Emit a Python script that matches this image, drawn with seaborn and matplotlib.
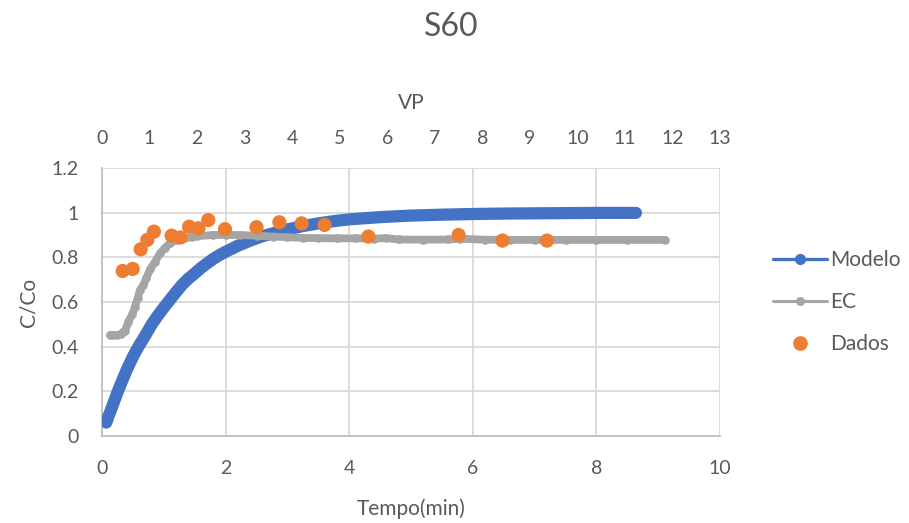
import matplotlib
matplotlib.use("Agg")
import matplotlib.pyplot as plt
from matplotlib.lines import Line2D
import seaborn as sns

# Modelo: fitted breakthrough curve (time in min, C/Co)
modelo_t = [0.07, 0.10, 0.15, 0.20, 0.25, 0.30, 0.40, 0.50, 0.60, 0.70, 0.80,
            0.90, 1.00, 1.10, 1.20, 1.30, 1.40, 1.50, 1.60, 1.70, 1.80, 1.90,
            2.00, 2.20, 2.40, 2.60, 2.80, 3.00, 3.25, 3.50, 3.75, 4.00, 4.50,
            5.00, 5.50, 6.00, 6.50, 7.00, 7.50, 8.00, 8.64]
modelo_c = [0.060, 0.085, 0.120, 0.158, 0.195, 0.230, 0.296, 0.355, 0.405, 0.450, 0.498,
            0.538, 0.575, 0.610, 0.645, 0.678, 0.705, 0.728, 0.752, 0.773, 0.793, 0.810,
            0.825, 0.852, 0.875, 0.895, 0.910, 0.925, 0.940, 0.952, 0.962, 0.970, 0.980,
            0.987, 0.991, 0.994, 0.996, 0.997, 0.998, 0.999, 0.999]

# EC: conductivity-based curve
ec_t = [0.13, 0.18, 0.24, 0.30, 0.345, 0.372, 0.426, 0.49, 0.534, 0.577, 0.615,
        0.67, 0.72, 0.777, 0.858, 0.94, 1.02, 1.10, 1.21, 1.32, 1.45, 1.54,
        1.80, 2.00, 2.23, 2.50, 2.77, 3.00, 3.25, 3.50, 3.80, 4.10, 4.40, 4.60,
        4.80, 5.20, 5.60, 5.80, 6.20, 6.60, 7.00, 7.50, 8.00, 8.50, 9.11]
ec_c = [0.452, 0.452, 0.452, 0.455, 0.467, 0.470, 0.512, 0.545, 0.579, 0.617, 0.654,
        0.676, 0.709, 0.746, 0.780, 0.818, 0.843, 0.863, 0.878, 0.885, 0.890, 0.895,
        0.900, 0.900, 0.900, 0.897, 0.893, 0.890, 0.887, 0.886, 0.885, 0.885, 0.884, 0.886,
        0.880, 0.879, 0.880, 0.883, 0.879, 0.878, 0.878, 0.878, 0.878, 0.878, 0.878]

# Dados: measured points
dados_t = [0.335, 0.497, 0.626, 0.733, 0.84, 1.127, 1.27, 1.41, 1.56, 1.72,
           1.99, 2.50, 2.87, 3.23, 3.60, 4.31, 5.77, 6.48, 7.20]
dados_c = [0.739, 0.748, 0.836, 0.878, 0.915, 0.897, 0.889, 0.937, 0.930, 0.967,
           0.926, 0.935, 0.957, 0.952, 0.945, 0.893, 0.900, 0.875, 0.875]

x_ticks = [0, 2, 4, 6, 8, 10]
y_ticks = [0, 0.2, 0.4, 0.6, 0.8, 1.0, 1.2]
vp_ticks = list(range(0, 14))

BLUE = "#4472C4"
GRAY = "#A5A5A5"
ORANGE = "#ED7D31"
TEXT = "#595959"
GRID = "#D9D9D9"

sns.set_theme(style="white")
plt.rcParams["font.family"] = ["Lato", "DejaVu Sans"]

fig = plt.figure(figsize=(9.09, 5.23), dpi=100)
ax = fig.add_axes([102 / 909, 1 - 436 / 523, (720 - 102) / 909, (436 - 168) / 523])

sns.lineplot(x=modelo_t, y=modelo_c, ax=ax, color=BLUE, linewidth=8.8,
             solid_capstyle="round", sort=False, estimator=None, legend=False, zorder=3)
sns.lineplot(x=ec_t, y=ec_c, ax=ax, color=GRAY, linewidth=5.6, marker="o",
             markersize=6.2, markeredgewidth=0, solid_capstyle="round",
             sort=False, estimator=None, legend=False, zorder=4)
sns.scatterplot(x=dados_t, y=dados_c, ax=ax, color=ORANGE, s=105,
                edgecolor="none", linewidth=0, legend=False, zorder=5)

ax.set_xlim(0, 10)
ax.set_ylim(0, 1.2)
ax.set_xticks(x_ticks)
ax.set_xticklabels([f"{v:g}" for v in x_ticks])
ax.set_yticks(y_ticks)
ax.set_yticklabels([f"{v:g}" for v in y_ticks])
ax.grid(True, color=GRID, linewidth=1.3)
ax.set_axisbelow(True)
for side in ["top", "right"]:
    ax.spines[side].set_visible(False)
for side in ["left", "bottom"]:
    ax.spines[side].set_color("#BFBFBF")
    ax.spines[side].set_linewidth(1.3)
ax.tick_params(axis="both", length=0, labelsize=14, labelcolor=TEXT)
ax.tick_params(axis="x", pad=17)
ax.tick_params(axis="y", pad=17)
ax.set_xlabel("Tempo(min)", fontsize=15, color=TEXT, labelpad=16)
ax.set_ylabel("C/Co", fontsize=15, color=TEXT, labelpad=9)

# secondary axis in pore volumes
ax2 = ax.twiny()
ax2.set_xlim(0, 13)
ax2.set_xticks(vp_ticks)
ax2.set_xticklabels([str(v) for v in vp_ticks])
ax2.tick_params(axis="x", length=0, labelsize=14, labelcolor=TEXT, pad=15)
ax2.set_xlabel("VP", fontsize=15, color=TEXT, labelpad=15)
for side in ax2.spines:
    ax2.spines[side].set_visible(False)
ax2.grid(False)

fig.text(451 / 909, 1 - 27 / 523, "S60", ha="center", va="center",
         fontsize=23, color=TEXT)

handles = [
    Line2D([], [], color=BLUE, linewidth=2.4, marker="o", markersize=7),
    Line2D([], [], color=GRAY, linewidth=2.2, marker="o", markersize=5.5),
    Line2D([], [], color=ORANGE, linestyle="none", marker="o", markersize=9.5),
]
leg = fig.legend(handles, ["Modelo", "EC", "Dados"], loc="center left",
                 bbox_to_anchor=(773 / 909, 1 - 302 / 523), frameon=False,
                 fontsize=15, handlelength=2.6, handletextpad=0.15,
                 labelspacing=1.05, borderpad=0, borderaxespad=0)
for t in leg.get_texts():
    t.set_color(TEXT)

fig.savefig("out.png", dpi=100)
